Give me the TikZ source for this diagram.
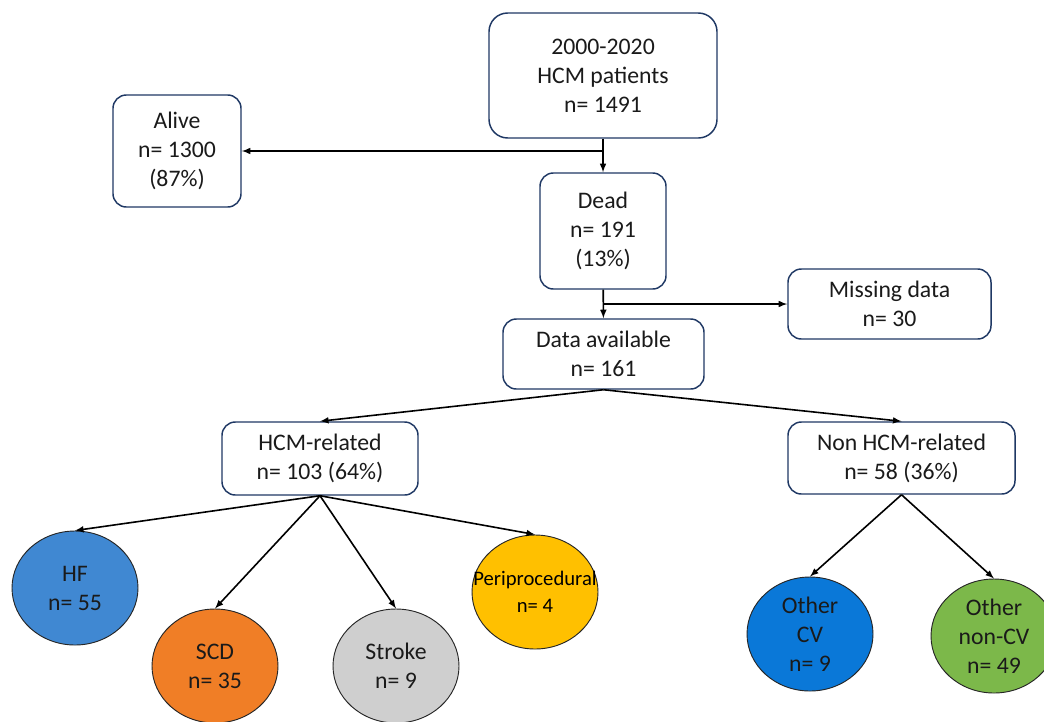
\documentclass[tikz,border=0pt]{standalone}
\usepackage{fontspec}
\setmainfont{Carlito}
\usetikzlibrary{shapes.geometric}

\definecolor{boxline}{HTML}{1F3864}
\definecolor{txt}{HTML}{1A1A1A}
\definecolor{hfblue}{HTML}{4088D2}
\definecolor{scdorange}{HTML}{F07E26}
\definecolor{strokegray}{HTML}{CFCFCF}
\definecolor{periyellow}{HTML}{FFC000}
\definecolor{cvblue}{HTML}{0A78D8}
\definecolor{noncvgreen}{HTML}{7CB84A}

\tikzset{
    stepbox/.style={draw=boxline, line width=1.1pt, rounded corners=10pt, fill=white, align=center, text=txt, inner sep=2pt},
    cause/.style={ellipse, draw=black!85, line width=0.7pt, minimum width=94.5pt, minimum height=85.5pt, inner sep=0pt, align=center, text=txt},
    link/.style={->, >=latex, line width=1.2pt}
}

\begin{document}
\begin{tikzpicture}[x=0.75pt, y=-0.75pt, font=\fontsize{17.8pt}{21.75pt}\selectfont]
        \useasboundingbox ( 0, 0 ) rectangle ( 1044, 721 );

        % блоки
        \node [stepbox, rounded corners=14pt, minimum width=171pt, minimum height=93.75pt] (total) at ( 603, 75.5 ) {2000-2020\\HCM patients\\n= 1491};
        \node [stepbox, minimum width=96pt, minimum height=84pt] (alive) at ( 177, 151 ) {Alive\\n= 1300\\(87\%)};
        \node [stepbox, minimum width=94.5pt, minimum height=87pt] (dead) at ( 603, 231 ) {Dead\\n= 191\\(13\%)};
        \node [stepbox, minimum width=152.25pt, minimum height=52.5pt] (missing) at ( 889.5, 304 ) {Missing data\\n= 30};
        \node [stepbox, minimum width=150.75pt, minimum height=52.5pt] (avail) at ( 603.5, 354 ) {Data available\\n= 161};
        \node [stepbox, minimum width=147pt, minimum height=54.75pt] (hcm) at ( 320, 458.5 ) {HCM-related\\n= 103 (64\%)};
        \node [stepbox, minimum width=170.25pt, minimum height=54pt] (nonhcm) at ( 901.5, 458 ) {Non HCM-related\\n= 58 (36\%)};

        % причины
        \node [cause, fill=hfblue] (hf) at ( 75, 588 ) {HF\\n= 55};
        \node [cause, fill=scdorange] (scd) at ( 215, 666 ) {SCD\\n= 35};
        \node [cause, fill=strokegray] (stroke) at ( 396, 666 ) {Stroke\\n= 9};
        \node [cause, fill=periyellow, text=black, font=\fontsize{15.5pt}{20pt}\selectfont] (peri) at ( 535, 592 ) {\makebox[0pt]{Periprocedural}\\n= 4};
        \node [cause, fill=cvblue] (othercv) at ( 810, 634 ) {Other\\CV\\n= 9};
        \node [cause, fill=noncvgreen] (othernoncv) at ( 994, 636 ) {Other\\non-CV\\n= 49};

        % развилки
        \coordinate (split1) at ( 603, 151 );
        \coordinate (split2) at ( 603, 304 );

        % стрелки
        \draw [link] (total) -- (dead);
        \draw [link] (split1) -- (alive);
        \draw [link] (dead) -- (avail);
        \draw [link] (split2) -- (missing);
        \draw [link] (avail.south) -- (hcm.north);
        \draw [link] (avail.south) -- (nonhcm.north);
        \draw [link] (hcm.south) -- (hf.north);
        \draw [link] (hcm.south) -- (scd.north);
        \draw [link] (hcm.south) -- (stroke.north);
        \draw [link] (hcm.south) -- (peri.north);
        \draw [link] (nonhcm.south) -- (othercv.north);
        \draw [link] (nonhcm.south) -- (othernoncv.north);
    \end{tikzpicture}
\end{document}
